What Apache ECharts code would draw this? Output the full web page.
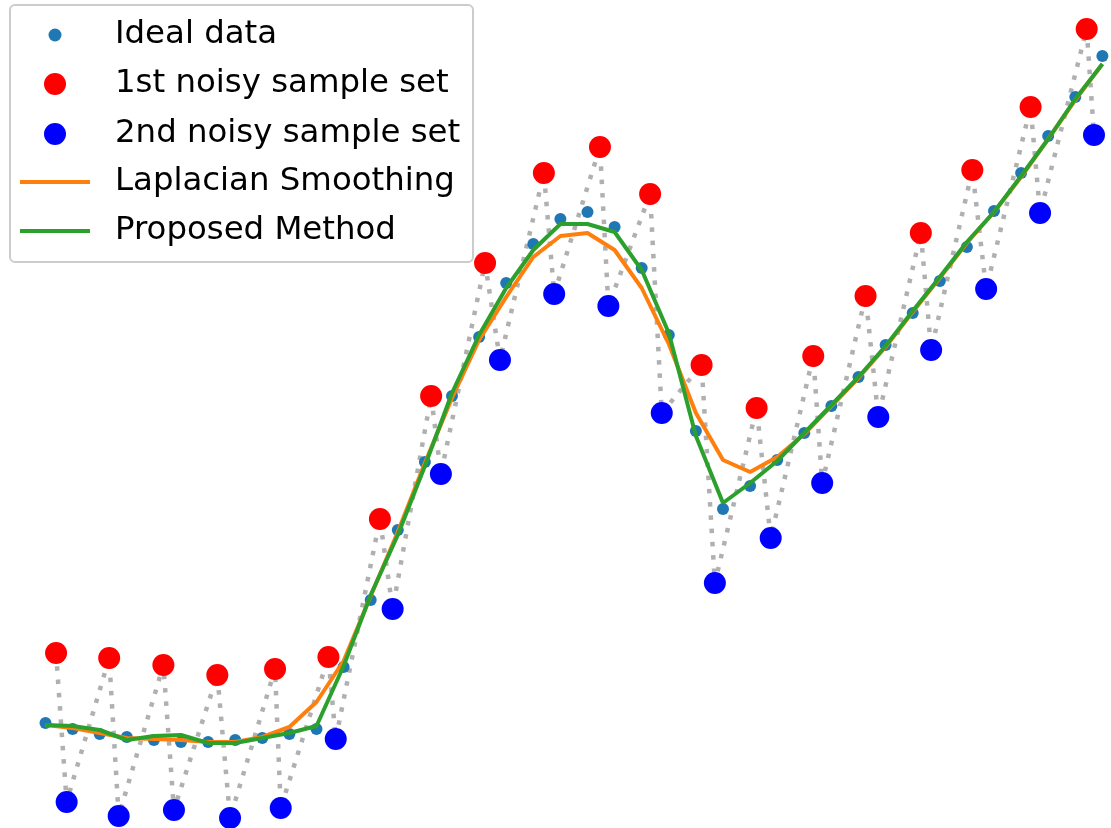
<!DOCTYPE html>
<html>
<head>
<meta charset="utf-8">
<script src="https://cdn.jsdelivr.net/npm/echarts@6/dist/echarts.min.js"></script>
<style>
html,body{margin:0;padding:0;background:#fff;}
#chart{width:1111px;height:828px;}
</style>
</head>
<body>
<div id="chart"></div>
<script>
// ---- data (x = sample index, y = signal value) ----
const seriesNames = ['Ideal data', '1st noisy sample set', '2nd noisy sample set', 'Laplacian Smoothing', 'Proposed Method'];

const idealY = [0.77, 0.71, 0.66, 0.63, 0.60, 0.58, 0.58, 0.60, 0.62, 0.66,
                0.71, 1.33, 2.00, 2.70, 3.38, 4.04, 4.63, 5.17, 5.56, 5.81,
                5.88, 5.73, 5.32, 4.65, 3.69, 2.91, 3.14, 3.40, 3.67, 3.94,
                4.23, 4.55, 4.87, 5.19, 5.53, 5.89, 6.27, 6.64, 7.03, 7.44];

const noisy1X = [0.39, 2.35, 4.35, 6.34, 8.47, 10.44, 12.34, 14.23, 16.22, 18.39,
                 20.46, 22.31, 24.21, 26.24, 28.33, 30.26, 32.30, 34.20, 36.35, 38.42];
const noisy1Y = [1.47, 1.42, 1.35, 1.25, 1.31, 1.43, 2.81, 4.04, 5.37, 6.27,
                 6.53, 6.06, 4.35, 3.92, 4.44, 5.04, 5.67, 6.30, 6.93, 7.71];

const noisy2X = [0.78, 2.70, 4.74, 6.81, 8.68, 10.71, 12.81, 14.59, 16.77, 18.77,
                 20.77, 22.74, 24.70, 26.76, 28.66, 30.73, 32.68, 34.71, 36.70, 38.69];
const noisy2Y = [-0.02, -0.16, -0.10, -0.18, -0.08, 0.61, 1.91, 3.26, 4.40, 5.06,
                 4.94, 3.87, 2.17, 2.62, 3.17, 3.83, 4.50, 5.11, 5.87, 6.65];

const laplacianY = [0.75, 0.72, 0.67, 0.62, 0.61, 0.60, 0.58, 0.58, 0.63, 0.73,
                    0.98, 1.39, 2.04, 2.68, 3.37, 4.02, 4.60, 5.03, 5.43, 5.64,
                    5.67, 5.50, 5.12, 4.56, 3.87, 3.40, 3.28, 3.43, 3.66, 3.94,
                    4.22, 4.53, 4.88, 5.22, 5.57, 5.88, 6.23, 6.61, 7.00, 7.36];

const proposedY = [0.75, 0.74, 0.70, 0.60, 0.64, 0.65, 0.57, 0.57, 0.62, 0.67,
                   0.74, 1.34, 2.05, 2.65, 3.34, 4.07, 4.65, 5.12, 5.50, 5.76,
                   5.76, 5.68, 5.30, 4.67, 3.64, 2.97, 3.17, 3.39, 3.67, 3.95,
                   4.23, 4.54, 4.89, 5.23, 5.58, 5.88, 6.24, 6.61, 7.01, 7.36];

// ---- build series data ----
const idealPts = idealY.map((y, i) => [i, y]);
const lapPts = laplacianY.map((y, i) => [i, y]);
const propPts = proposedY.map((y, i) => [i, y]);
const n1Pts = noisy1X.map((x, i) => [x, noisy1Y[i]]);
const n2Pts = noisy2X.map((x, i) => [x, noisy2Y[i]]);
const zigzag = [];
for (let i = 0; i < n1Pts.length; i++) { zigzag.push(n1Pts[i]); zigzag.push(n2Pts[i]); }

const FONT = 'DejaVu Sans';
const legendBase = {
  orient: 'vertical', padding: 0, itemWidth: 70, z: 11,
  selectedMode: false,
  textStyle: { fontFamily: FONT, fontSize: 32.4, color: '#000', lineHeight: 40, padding: [0, 0, 0, 20] }
};

const chart = echarts.init(document.getElementById('chart'), null, { renderer: 'canvas' });
chart.setOption({
  animation: false,
  backgroundColor: '#fff',
  grid: { left: 45.5, right: 8.6, top: 0, bottom: 0, containLabel: false },
  xAxis: { type: 'value', min: 0, max: 39, show: false },
  yAxis: { type: 'value', min: -0.28, max: 8.0, show: false },
  graphic: [{
    type: 'rect', z: 10, silent: true,
    shape: { x: 10, y: 5, width: 463, height: 257, r: 5 },
    style: { fill: 'rgba(255,255,255,0.85)', stroke: '#cccccc', lineWidth: 2 }
  }],
  legend: [
    Object.assign({}, legendBase, { left: 48.5, top: 15, itemHeight: 13, data: [seriesNames[0]] }),
    Object.assign({}, legendBase, { left: 44, top: 64, itemHeight: 22, itemGap: 10, data: [seriesNames[1], seriesNames[2]] }),
    Object.assign({}, legendBase, { left: 18, top: 162, itemHeight: 5, itemGap: 9,
      itemStyle: { opacity: 0 }, lineStyle: { width: 4 }, data: [seriesNames[3], seriesNames[4]] })
  ],
  series: [
    {
      name: 'pairs', type: 'line', data: zigzag, symbol: 'none', clip: false, silent: true,
      lineStyle: { color: '#b0b0b0', width: 4.5, type: [4.5, 8.8], cap: 'butt' }, z: 1
    },
    {
      name: seriesNames[0], type: 'scatter', data: idealPts, symbolSize: 12,
      itemStyle: { color: '#1f77b4', opacity: 1 }, clip: false, z: 2
    },
    {
      name: seriesNames[1], type: 'scatter', data: n1Pts, symbolSize: 22,
      itemStyle: { color: '#ff0000', opacity: 1 }, clip: false, z: 2
    },
    {
      name: seriesNames[2], type: 'scatter', data: n2Pts, symbolSize: 22,
      itemStyle: { color: '#0000ff', opacity: 1 }, clip: false, z: 2
    },
    {
      name: seriesNames[3], type: 'line', data: lapPts, symbol: 'none', clip: false,
      itemStyle: { color: '#ff7f0e' },
      lineStyle: { color: '#ff7f0e', width: 4 }, z: 3
    },
    {
      name: seriesNames[4], type: 'line', data: propPts, symbol: 'none', clip: false,
      itemStyle: { color: '#2ca02c' },
      lineStyle: { color: '#2ca02c', width: 4 }, z: 3
    }
  ]
});
</script>
</body>
</html>
